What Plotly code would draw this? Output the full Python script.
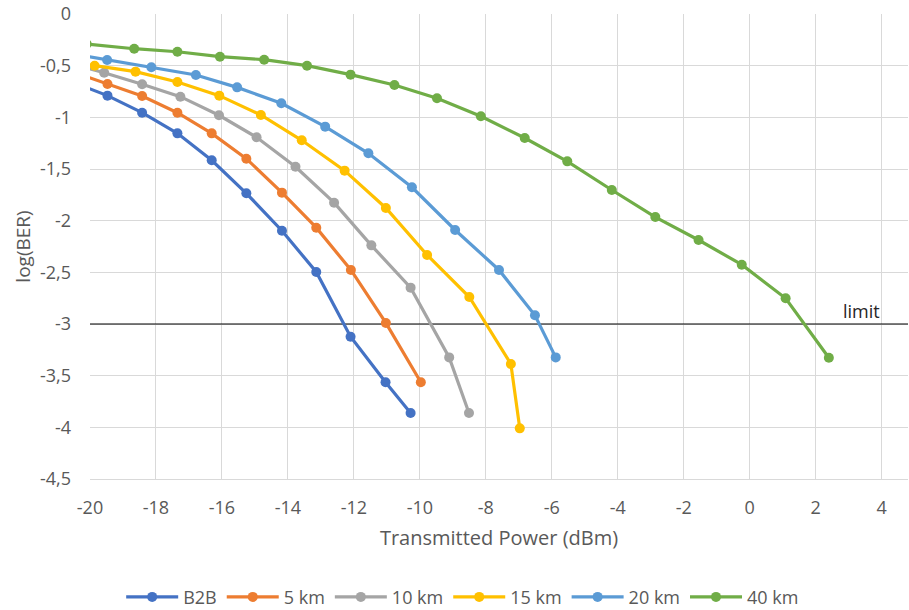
import plotly.graph_objects as go

# Transmitted power (dBm) and log10(BER) for each fibre length
b2b_x = [-20.52, -19.47, -18.42, -17.35, -16.31, -15.26, -14.18, -13.14, -12.10, -11.04, -10.28]
b2b_y = [-0.66, -0.79, -0.955, -1.155, -1.416, -1.735, -2.097, -2.497, -3.123, -3.564, -3.861]

km5_x = [-20.52, -19.47, -18.42, -17.35, -16.31, -15.26, -14.18, -13.14, -12.09, -11.03, -9.97]
km5_y = [-0.56, -0.677, -0.794, -0.955, -1.155, -1.40, -1.729, -2.068, -2.477, -2.99, -3.564]

km10_x = [-20.73, -19.57, -18.42, -17.26, -16.09, -14.95, -13.77, -12.60, -11.47, -10.28, -9.11, -8.51]
km10_y = [-0.47, -0.568, -0.68, -0.80, -0.98, -1.193, -1.478, -1.826, -2.239, -2.648, -3.323, -3.861]

km15_x = [-19.86, -18.62, -17.35, -16.08, -14.82, -13.58, -12.28, -11.03, -9.78, -8.50, -7.24, -6.97]
km15_y = [-0.50, -0.558, -0.658, -0.79, -0.977, -1.222, -1.516, -1.877, -2.332, -2.739, -3.387, -4.01]

km20_x = [-20.81, -19.48, -18.14, -16.79, -15.54, -14.20, -12.87, -11.56, -10.24, -8.93, -7.60, -6.51, -5.88]
km20_y = [-0.37, -0.445, -0.516, -0.59, -0.71, -0.864, -1.09, -1.348, -1.677, -2.09, -2.477, -2.916, -3.323]

km40_x = [-20.10, -18.66, -17.35, -16.06, -14.72, -13.42, -12.10, -10.77, -9.48, -8.15, -6.82, -5.53,
          -4.18, -2.86, -1.55, -0.24, 1.09, 2.40]
km40_y = [-0.29, -0.336, -0.365, -0.413, -0.442, -0.50, -0.587, -0.687, -0.816, -0.99, -1.20, -1.426,
          -1.703, -1.965, -2.187, -2.426, -2.751, -3.326]

series_names = ["B2B", "5 km", "10 km", "15 km", "20 km", "40 km"]
series_x = [b2b_x, km5_x, km10_x, km15_x, km20_x, km40_x]
series_y = [b2b_y, km5_y, km10_y, km15_y, km20_y, km40_y]
series_colors = ["#4472C4", "#ED7D31", "#A5A5A5", "#FFC000", "#5B9BD5", "#70AD47"]

# FEC threshold
limit_x = [-21, 6]
limit_y = [-3, -3]

x_tickvals = [-20, -18, -16, -14, -12, -10, -8, -6, -4, -2, 0, 2, 4]
x_ticktext = ["-20", "-18", "-16", "-14", "-12", "-10", "-8", "-6", "-4", "-2", "0", "2", "4"]
y_tickvals = [0, -0.5, -1, -1.5, -2, -2.5, -3, -3.5, -4, -4.5]
y_ticktext = ["0", "-0,5", "-1", "-1,5", "-2", "-2,5", "-3", "-3,5", "-4", "-4,5"]

FONT = "'Open Sans', sans-serif"
GREY = "#595959"

fig = go.Figure()

fig.add_trace(go.Scatter(
    x=limit_x, y=limit_y, mode="lines", name="limit",
    line=dict(color="#000000", width=1.2), showlegend=False, hoverinfo="skip",
))

for name, xs, ys, col in zip(series_names, series_x, series_y, series_colors):
    fig.add_trace(go.Scatter(
        x=xs, y=ys, mode="lines+markers", name=name,
        line=dict(color=col, width=3.2),
        marker=dict(color=col, size=10),
        cliponaxis=True,
    ))

fig.add_annotation(
    x=3.4, y=-3, text="limit", showarrow=False,
    yshift=13, font=dict(family=FONT, size=18, color="#262626"),
)

fig.update_layout(
    width=909, height=610,
    margin=dict(l=90, r=1, t=14, b=131),
    paper_bgcolor="white", plot_bgcolor="white",
    font=dict(family=FONT, size=18, color=GREY),
    xaxis=dict(
        range=[-20, 4.8], tickvals=x_tickvals, ticktext=x_ticktext,
        showgrid=True, gridcolor="#D9D9D9", gridwidth=1,
        zeroline=False, showline=True, linecolor="#D9D9D9", linewidth=1,
        ticks="", ticklabelstandoff=12,
        title=dict(text="Transmitted Power (dBm)", standoff=13,
                   font=dict(family=FONT, size=20, color=GREY)),
        tickfont=dict(family=FONT, size=18, color=GREY),
    ),
    yaxis=dict(
        range=[-4.5, 0], tickvals=y_tickvals, ticktext=y_ticktext,
        showgrid=True, gridcolor="#D9D9D9", gridwidth=1,
        zeroline=False, showline=False,
        ticks="", ticklabelstandoff=18,
        title=dict(text="log(BER)", standoff=4,
                   font=dict(family=FONT, size=19, color=GREY)),
        tickfont=dict(family=FONT, size=18, color=GREY),
    ),
    legend=dict(
        orientation="h", xref="container", yref="container",
        x=0.509, xanchor="center", y=0.021, yanchor="middle",
        font=dict(family=FONT, size=18, color=GREY),
        itemwidth=52, tracegroupgap=0,
    ),
)

fig.write_html("out.html")
